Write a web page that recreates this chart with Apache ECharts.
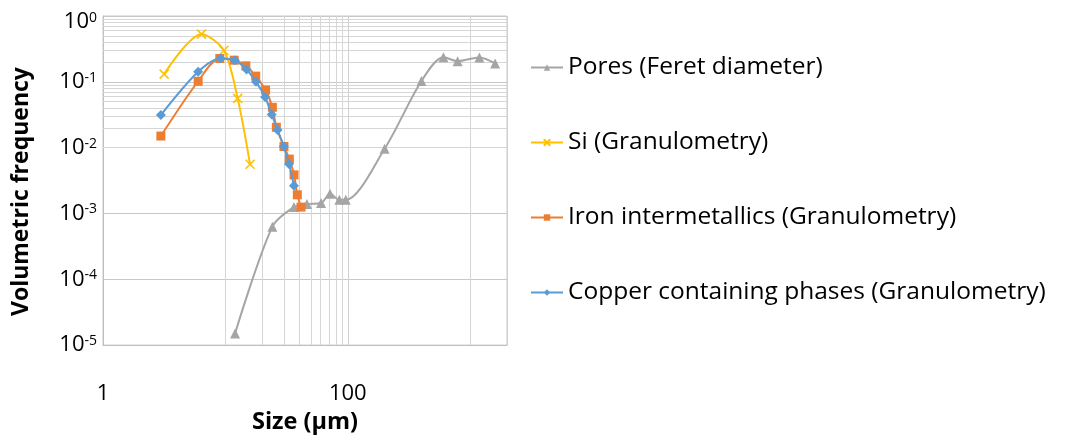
<!DOCTYPE html>
<html>
<head>
<meta charset="utf-8">
<script src="https://cdn.jsdelivr.net/npm/echarts@6/dist/echarts.min.js"></script>
<style>html,body{margin:0;padding:0;background:#fff}#c{width:1067px;height:439px}</style>
</head>
<body>
<div id="c"></div>
<script>
// ---- data (size in µm, volumetric frequency) ----
var seriesNames = ['Pores (Feret diameter)', 'Si (Granulometry)', 'Iron intermetallics (Granulometry)', 'Copper containing phases (Granulometry)'];

var poresX = [12.0, 24.2, 36.3, 46.4, 60.5, 71.6, 85.4, 96.3, 200, 400, 605, 790, 1190, 1600];
var poresY = [1.5e-5, 6.3e-4, 1.25e-3, 1.39e-3, 1.44e-3, 1.99e-3, 1.61e-3, 1.61e-3, 9.6e-3, 0.103, 0.237, 0.206, 0.234, 0.19];

var siX = [3.16, 6.38, 9.72, 12.6, 15.9];
var siY = [0.131, 0.53, 0.30, 0.056, 0.0056];

var ironX = [2.97, 5.99, 9.0, 11.8, 14.7, 17.7, 21.3, 24.2, 26.1, 30.1, 33.3, 36.4, 38.7, 41.5];
var ironY = [0.015, 0.102, 0.226, 0.213, 0.175, 0.122, 0.075, 0.041, 0.0204, 0.0104, 0.0067, 0.00386, 0.00192, 0.00125];

var copperX = [2.97, 5.99, 9.14, 11.95, 14.9, 17.8, 21.1, 23.9, 26.7, 30.0, 33.1, 36.3];
var copperY = [0.0313, 0.142, 0.226, 0.213, 0.154, 0.1, 0.0587, 0.032, 0.0185, 0.0104, 0.00566, 0.00263];

// axis range and minor gridline values
var xMin = 1, xMax = 2000;
var yMin = 1e-5, yMax = 1;
var xMinorGrid = [10, 20, 30, 40, 50, 60, 70, 80, 90, 1000];
var yMinorMultipliers = [2, 3, 4, 5, 6, 7, 8, 9];
var yDecades = [1e-5, 1e-4, 1e-3, 1e-2, 1e-1];

function pairs(xs, ys) { return xs.map(function (x, i) { return [x, ys[i]]; }); }

var yMinorGrid = [];
yDecades.forEach(function (d) { yMinorMultipliers.forEach(function (m) { yMinorGrid.push(+(d * m).toPrecision(3)); }); });

var FONT = 'Open Sans';
var gridMarks = yMinorGrid.map(function (v) { return { yAxis: v }; })
  .concat(xMinorGrid.map(function (v) { return { xAxis: v }; }));

var chart = echarts.init(document.getElementById('c'), null, { renderer: 'canvas' });
chart.setOption({
  animation: false,
  backgroundColor: '#fff',
  grid: { left: 103, top: 16, width: 404, height: 330, show: true, borderColor: '#c8c8c8', borderWidth: 1 },
  legend: {
    orient: 'vertical', left: 530, top: 53, padding: 0, itemGap: 46, itemWidth: 32, itemHeight: 8,
    data: seriesNames,
    textStyle: { fontFamily: FONT, fontSize: 24.5, color: '#000', lineHeight: 29 }
  },
  xAxis: {
    type: 'log', logBase: 100, min: xMin, max: xMax,
    name: 'Size (µm)', nameLocation: 'middle', nameGap: 62,
    nameTextStyle: { fontFamily: FONT, fontSize: 23.5, fontWeight: 'bold', color: '#000' },
    axisLine: { show: true, lineStyle: { color: '#bfbfbf' } },
    axisTick: { show: false },
    axisLabel: { showMaxLabel: false, margin: 38, fontFamily: FONT, fontSize: 22, color: '#000',
      formatter: function (v) { return String(Math.round(v)); } },
    splitLine: { show: true, lineStyle: { color: '#d0d0d0', width: 1 } }
  },
  yAxis: {
    type: 'log', logBase: 10, min: yMin, max: yMax,
    name: 'Volumetric frequency', nameLocation: 'middle', nameGap: 70,
    nameTextStyle: { fontFamily: FONT, fontSize: 23, fontWeight: 'bold', color: '#000', padding: [0, 22, 0, 0] },
    axisLine: { show: true, lineStyle: { color: '#bfbfbf' } },
    axisTick: { show: false },
    axisLabel: {
      margin: 6,
      formatter: function (v) {
        var e = Math.round(Math.log(v) / Math.LN10);
        if (e === 0) return '{sp| }\n{a|10}{b|0}';
        return '{a|10}{b|' + e + '}';
      },
      rich: {
        sp: { fontSize: 6, lineHeight: 12 },
        a: { fontFamily: FONT, fontSize: 22, lineHeight: 22, color: '#000' },
        b: { fontFamily: FONT, fontSize: 14, lineHeight: 14, verticalAlign: 'top', color: '#000' }
      }
    },
    splitLine: { show: true, lineStyle: { color: '#c8c8c8', width: 1 } }
  },
  series: [
    {
      name: seriesNames[0], type: 'line', smooth: 0.3, z: 3,
      data: pairs(poresX, poresY),
      symbol: 'triangle', symbolSize: 10,
      itemStyle: { color: '#a5a5a5' }, lineStyle: { color: '#a5a5a5', width: 2 },
      markLine: {
        silent: true, z: 1, symbol: ['none', 'none'], label: { show: false }, animation: false,
        lineStyle: { color: '#d6d6d6', type: 'solid', width: 1 },
        emphasis: { disabled: true },
        data: gridMarks
      }
    },
    {
      name: seriesNames[1], type: 'line', smooth: 0.3, z: 4,
      data: pairs(siX, siY),
      symbol: 'path://M0,0L10,10M10,0L0,10', symbolSize: 9,
      itemStyle: { color: '#ffc000', borderColor: '#ffc000', borderWidth: 1.5 },
      lineStyle: { color: '#ffc000', width: 2 }
    },
    {
      name: seriesNames[2], type: 'line', smooth: 0.3, z: 5,
      data: pairs(ironX, ironY),
      symbol: 'rect', symbolSize: 9,
      itemStyle: { color: '#ed7d31' }, lineStyle: { color: '#ed7d31', width: 2 }
    },
    {
      name: seriesNames[3], type: 'line', smooth: 0.3, z: 6,
      data: pairs(copperX, copperY),
      symbol: 'diamond', symbolSize: 10,
      itemStyle: { color: '#5b9bd5' }, lineStyle: { color: '#5b9bd5', width: 2 }
    }
  ]
});
</script>
</body>
</html>
